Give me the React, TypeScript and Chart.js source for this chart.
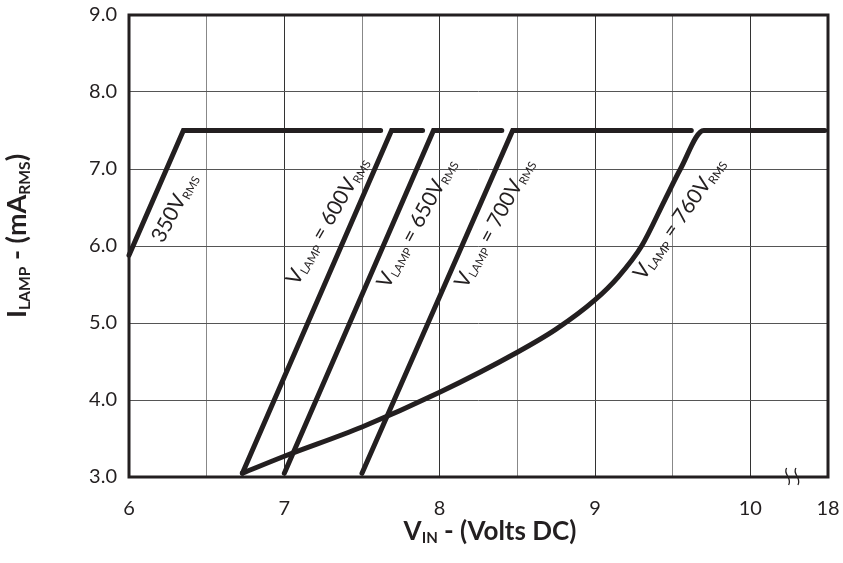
import React, { useEffect, useRef } from "react";
import { Chart, registerables } from "chart.js";

Chart.register(...registerables);

// ---- Data ----
const xTickValues = [6, 6.5, 7, 7.5, 8, 8.5, 9, 9.5, 10, 10.5];
const xTickLabels = ["6", "", "7", "", "8", "", "9", "", "10", "18"];
const yTickValues = [3, 4, 5, 6, 7, 8, 9];

const vin350 = [6.0, 6.35, 7.62];
const ilamp350 = [5.88, 7.5, 7.5];

const vin600 = [6.73, 7.69, 7.89];
const ilamp600 = [3.05, 7.5, 7.5];

const vin650 = [7.0, 7.96, 8.4];
const ilamp650 = [3.05, 7.5, 7.5];

const vin700 = [7.5, 8.47, 9.62];
const ilamp700 = [3.05, 7.5, 7.5];

const vin760 = [6.73, 7.0, 7.5, 8.0, 8.5, 8.75, 9.0, 9.15, 9.3, 9.45, 9.55, 9.7, 10.48];
const ilamp760 = [3.05, 3.27, 3.65, 4.1, 4.62, 4.92, 5.3, 5.6, 6.0, 6.6, 7.0, 7.5, 7.5];

const seriesNames = ["350", "600", "650", "700", "760"];
const labelMain = ["350V", " = 600V", " = 650V", " = 700V", " = 760V"];
const labelX = [6.29, 7.275, 7.85, 8.35, 9.54];
const labelY = [6.5, 6.33, 6.3, 6.3, 6.36];
const labelAngle = [-62, -60, -61.5, -61.5, -55];

const breakX = [10.24, 10.3];

const toPoints = (xs: number[], ys: number[]) => xs.map((x, i) => ({ x, y: ys[i] }));

const FONT = "Lato, 'Noto Sans', sans-serif";
const INK = "#231f20";

type Part = { t: string; sub?: boolean };

function drawRich(
  ctx: CanvasRenderingContext2D,
  parts: Part[],
  size: number,
  weight: string,
  cx: number,
  cy: number,
  angleDeg: number,
  subRatio = 0.55
) {
  ctx.save();
  ctx.translate(cx, cy);
  ctx.rotate((angleDeg * Math.PI) / 180);
  ctx.fillStyle = INK;
  ctx.textBaseline = "alphabetic";
  ctx.textAlign = "left";
  const subSize = size * subRatio;
  let total = 0;
  const widths: number[] = [];
  for (const p of parts) {
    ctx.font = `${weight} ${p.sub ? subSize : size}px ${FONT}`;
    const w = ctx.measureText(p.t).width;
    widths.push(w);
    total += w;
  }
  let x = -total / 2;
  const base = size * 0.35;
  parts.forEach((p, i) => {
    ctx.font = `${weight} ${p.sub ? subSize : size}px ${FONT}`;
    ctx.fillText(p.t, x, p.sub ? base + size * 0.12 : base);
    x += widths[i];
  });
  ctx.restore();
}

const overlayPlugin = {
  id: "overlay",
  afterDatasetsDraw(chart: any) {
    const { ctx, chartArea, scales } = chart;
    const xs = scales.x;
    const ys = scales.y;
    // frame
    ctx.save();
    ctx.strokeStyle = INK;
    ctx.lineWidth = 3;
    ctx.strokeRect(chartArea.left, chartArea.top, chartArea.right - chartArea.left, chartArea.bottom - chartArea.top);
    ctx.restore();

    // break marks
    ctx.save();
    ctx.strokeStyle = INK;
    ctx.lineWidth = 1.3;
    for (const bx of breakX) {
      const px = xs.getPixelForValue(bx);
      const b = chartArea.bottom;
      ctx.beginPath();
      ctx.moveTo(px - 1, b - 9);
      ctx.bezierCurveTo(px - 5, b - 3, px + 5, b + 1, px + 1, b + 8);
      ctx.stroke();
    }
    ctx.restore();

    // curve labels
    seriesNames.forEach((_, i) => {
      const parts: Part[] =
        i === 0
          ? [{ t: labelMain[i] }, { t: "RMS", sub: true }]
          : [{ t: "V" }, { t: "LAMP", sub: true }, { t: labelMain[i] }, { t: "RMS", sub: true }];
      drawRich(ctx, parts, 21, "normal", xs.getPixelForValue(labelX[i]), ys.getPixelForValue(labelY[i]), labelAngle[i]);
    });
  },
  afterDraw(chart: any) {
    const { ctx } = chart;
    // y title
    drawRich(
      ctx,
      [{ t: "I" }, { t: "LAMP", sub: true }, { t: " - (mA" }, { t: "RMS", sub: true }, { t: ")" }],
      27,
      "bold",
      17,
      236,
      -90,
      0.58
    );
    // x title
    drawRich(
      ctx,
      [{ t: "V" }, { t: "IN", sub: true }, { t: " - (Volts DC)" }],
      26,
      "bold",
      490,
      531,
      0,
      0.58
    );
  },
};

export default function App() {
  const ref = useRef<HTMLCanvasElement | null>(null);
  useEffect(() => {
    document.body.style.margin = "0";
    const ds = (xs: number[], ys: number[], smooth: boolean) => ({
      data: toPoints(xs, ys),
      borderColor: INK,
      borderWidth: 5,
      borderCapStyle: "round" as const,
      borderJoinStyle: "miter" as const,
      pointRadius: 0,
      fill: false,
      tension: smooth ? 0.4 : 0,
      cubicInterpolationMode: smooth ? ("monotone" as const) : ("default" as const),
      clip: false as any,
    });
    const chart = new Chart(ref.current as HTMLCanvasElement, {
      type: "line",
      data: {
        datasets: [
          ds(vin350, ilamp350, false),
          ds(vin600, ilamp600, false),
          ds(vin650, ilamp650, false),
          ds(vin700, ilamp700, false),
          ds(vin760, ilamp760, true),
        ],
      },
      options: {
        animation: false,
        responsive: true,
        maintainAspectRatio: false,
        layout: { padding: { left: 0, right: 15, top: 15, bottom: 0 } },
        plugins: { legend: { display: false }, tooltip: { enabled: false } },
        scales: {
          x: {
            type: "linear",
            min: 6,
            max: 10.5,
            afterBuildTicks: (scale: any) => {
              scale.ticks = xTickValues.map((v) => ({ value: v }));
            },
            afterFit: (scale: any) => {
              scale.height = 86;
              scale.paddingLeft = 0;
              scale.paddingRight = 0;
            },
            ticks: {
              autoSkip: false,
              maxRotation: 0,
              padding: 20,
              color: INK,
              font: { family: FONT, size: 20 },
              callback: (v: any) => {
                const idx = xTickValues.indexOf(Number(v));
                return idx >= 0 ? xTickLabels[idx] : "";
              },
            },
            grid: {
              drawTicks: false,
              color: (c: any) => (Number.isInteger(c.tick?.value) ? "#333" : "#888"),
              lineWidth: 1,
            },
            border: { display: false },
          },
          y: {
            type: "linear",
            min: 3,
            max: 9,
            afterBuildTicks: (scale: any) => {
              scale.ticks = yTickValues.map((v) => ({ value: v }));
            },
            afterFit: (scale: any) => {
              scale.width = 129;
              scale.paddingTop = 0;
              scale.paddingBottom = 0;
            },
            ticks: {
              padding: 12,
              color: INK,
              font: { family: FONT, size: 20 },
              callback: (v: any) => Number(v).toFixed(1),
            },
            grid: { drawTicks: false, color: "#555", lineWidth: 1 },
            border: { display: false },
          },
        },
      },
      plugins: [overlayPlugin],
    });
    return () => chart.destroy();
  }, []);
  return (
    <div style={{ width: 843, height: 563, position: "relative" }}>
      <canvas ref={ref} />
    </div>
  );
}
